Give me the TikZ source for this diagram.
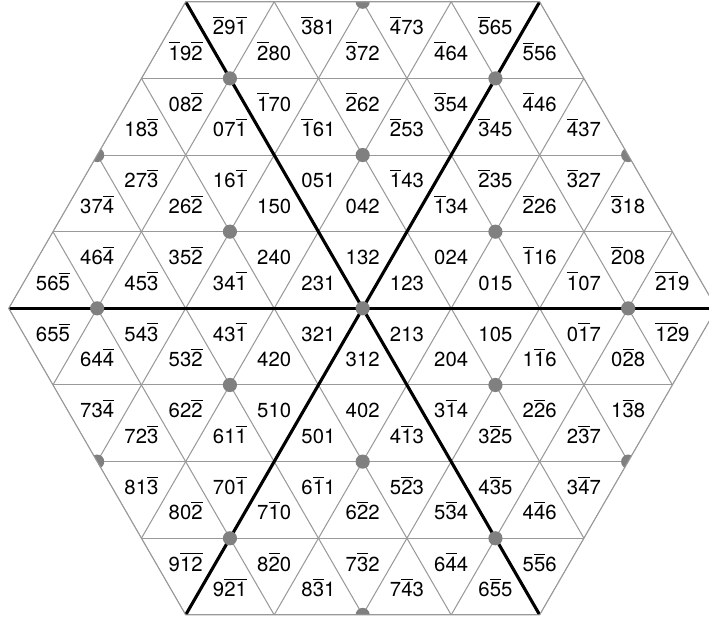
\documentclass[tikz,border=0pt]{standalone}
\usepackage{fontspec}
\setmainfont{TeX Gyre Heros}
\usepackage{tikz}
\usetikzlibrary{calc}
\definecolor{gridgray}{HTML}{999999}
\definecolor{dotgray}{HTML}{808080}
\tikzset{
  gridline/.style={gridgray, line width=0.5pt},
  mirrorline/.style={black, line width=1.5pt},
  tlabel/.style={font=\fontsize{9.8}{11.8}\selectfont, inner sep=0pt, text height=7pt, text depth=0pt}
}
\newcommand{\ob}[1]{\ensuremath{\overline{\mbox{#1}}}}

\begin{document}
\begin{tikzpicture}[x=1.5cm, y=1.5cm]
  \useasboundingbox (-4.098,-3.499) rectangle (3.913,3.484);
  \foreach \a in {0,60,...,300}
    \coordinate (c\a) at (\a:4);
  \begin{scope}
    \clip (c0) -- (c60) -- (c120) -- (c180) -- (c240) -- (c300) -- cycle;
    \foreach \k in {-4,...,4}
      \draw[gridline] (-5,{\k*0.8660}) -- (5,{\k*0.8660});
    \foreach \k in {-8,...,8} {
      \draw[gridline] ({\k-2.5},-4.33) -- ({\k+2.5},4.33);
      \draw[gridline] ({\k+2.5},-4.33) -- ({\k-2.5},4.33);
    }
    \draw[mirrorline] (c0) -- (c180);
    \draw[mirrorline] (c60) -- (c240);
    \draw[mirrorline] (c120) -- (c300);
    % sites of the coarse lattice
    \foreach \m in {-3,...,3}
      \foreach \n in {-3,...,3}
        \fill[dotgray] ({1.5*\m},{0.8660*\m+1.7321*\n}) circle (0.12cm);
  \end{scope}
  \draw[gridline] (c0) -- (c60) -- (c120) -- (c180) -- (c240) -- (c300) -- cycle;

  % row labels, top to bottom
  \foreach \lab [count=\i] in {\ob{1}9\ob{2}, \ob{2}9\ob{1}, \ob{2}80, \ob{3}81, \ob{3}72, \ob{4}73, \ob{4}64, \ob{5}65, \ob{5}56}
    \node[tlabel] (ra-\i) at ({-2+0.5*(\i-1)},{3.4641-0.2887-0.2887*mod(\i,2)}) {\lab};
  \foreach \lab [count=\i] in {18\ob{3}, 08\ob{2}, 07\ob{1}, \ob{1}70, \ob{1}61, \ob{2}62, \ob{2}53, \ob{3}54, \ob{3}45, \ob{4}46, \ob{4}37}
    \node[tlabel] (rb-\i) at ({-2.5+0.5*(\i-1)},{2.5981-0.2887-0.2887*mod(\i,2)}) {\lab};
  \foreach \lab [count=\i] in {37\ob{4}, 27\ob{3}, 26\ob{2}, 16\ob{1}, 150, 051, 042, \ob{1}43, \ob{1}34, \ob{2}35, \ob{2}26, \ob{3}27, \ob{3}18}
    \node[tlabel] (rc-\i) at ({-3+0.5*(\i-1)},{1.7321-0.2887-0.2887*mod(\i,2)}) {\lab};
  \foreach \lab [count=\i] in {56\ob{5}, 46\ob{4}, 45\ob{3}, 35\ob{2}, 34\ob{1}, 240, 231, 132, 123, 024, 015, \ob{1}16, \ob{1}07, \ob{2}08, \ob{21}9}
    \node[tlabel] (rd-\i) at ({-3.5+0.5*(\i-1)},{0.8660-0.2887-0.2887*mod(\i,2)}) {\lab};
  \foreach \lab [count=\i] in {65\ob{5}, 64\ob{4}, 54\ob{3}, 53\ob{2}, 43\ob{1}, 420, 321, 312, 213, 204, 105, 1\ob{1}6, 0\ob{1}7, 0\ob{2}8, \ob{12}9}
    \node[tlabel] (re-\i) at ({-3.5+0.5*(\i-1)},{0-0.5774+0.2887*mod(\i,2)}) {\lab};
  \foreach \lab [count=\i] in {73\ob{4}, 72\ob{3}, 62\ob{2}, 61\ob{1}, 510, 501, 402, 4\ob{1}3, 3\ob{1}4, 3\ob{2}5, 2\ob{2}6, 2\ob{3}7, 1\ob{3}8}
    \node[tlabel] (rf-\i) at ({-3+0.5*(\i-1)},{-0.8660-0.5774+0.2887*mod(\i,2)}) {\lab};
  \foreach \lab [count=\i] in {81\ob{3}, 80\ob{2}, 70\ob{1}, 7\ob{1}0, 6\ob{1}1, 6\ob{2}2, 5\ob{2}3, 5\ob{3}4, 4\ob{3}5, 4\ob{4}6, 3\ob{4}7}
    \node[tlabel] (rg-\i) at ({-2.5+0.5*(\i-1)},{-1.7321-0.5774+0.2887*mod(\i,2)}) {\lab};
  \foreach \lab [count=\i] in {9\ob{12}, 9\ob{21}, 8\ob{2}0, 8\ob{3}1, 7\ob{3}2, 7\ob{4}3, 6\ob{4}4, 6\ob{5}5, 5\ob{5}6}
    \node[tlabel] (rh-\i) at ({-2+0.5*(\i-1)},{-2.5981-0.5774+0.2887*mod(\i,2)}) {\lab};
\end{tikzpicture}
\end{document}
